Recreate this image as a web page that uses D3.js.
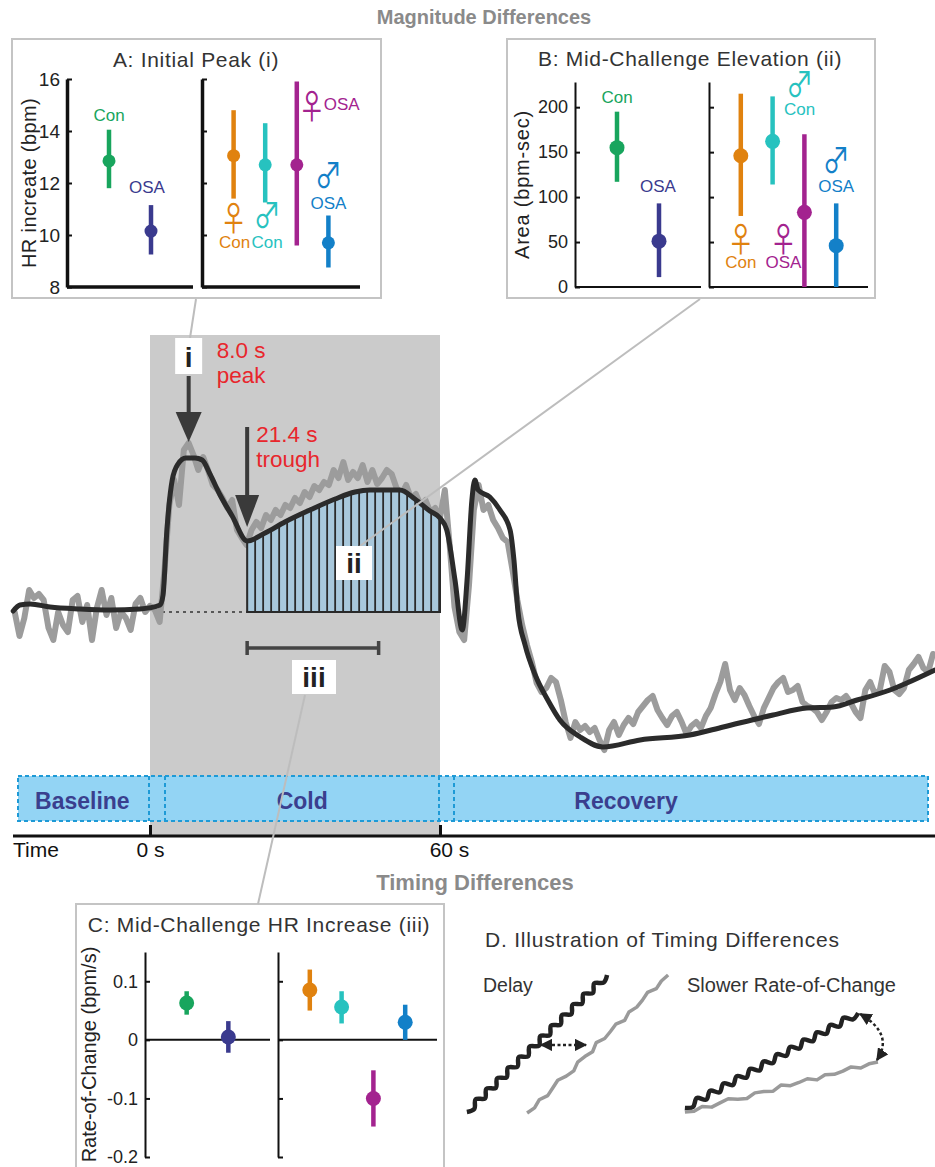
<!DOCTYPE html>
<html lang="en">
<head>
<meta charset="UTF-8">
<title>HR response to cold challenge</title>
<script src="https://cdn.jsdelivr.net/npm/d3@7"></script>
<style>
  body { margin: 0; background: #fff; }
  svg { display: block; font-family: "Liberation Sans", Arial, sans-serif; }
</style>
</head>
<body>
<svg id="fig" width="935" height="1167"></svg>
<script>
// ---------------- data ----------------
const groups2 = ["Con", "OSA"];
const groups4 = ["fCon", "mCon", "fOSA", "mOSA"];
const colors2 = ["#18a55d", "#3a3a8e"];
const colors4 = ["#e0820f", "#27c2bf", "#a3238f", "#1380c8"];

// A: initial peak (bpm)
const peakMean2 = [12.85, 10.15], peakLo2 = [11.8, 9.25], peakHi2 = [14.05, 11.15];
const peakMean4 = [13.05, 12.7, 12.7, 9.7], peakLo4 = [11.4, 11.25, 9.6, 8.75], peakHi4 = [14.8, 14.3, 15.9, 10.75];
const peakTicks = [8, 10, 12, 14, 16];

// B: mid-challenge area (bpm-sec)
const areaMean2 = [155, 51], areaLo2 = [117, 11], areaHi2 = [195, 93];
const areaMean4 = [146, 162, 83, 46], areaLo4 = [79, 114, 0, 0], areaHi4 = [215, 212, 170, 93];
const areaTicks = [0, 50, 100, 150, 200];

// C: rate of change (bpm/s)
const rateMean2 = [0.063, 0.005], rateLo2 = [0.043, -0.022], rateHi2 = [0.083, 0.032];
const rateMean4 = [0.085, 0.056, -0.1, 0.03], rateLo4 = [0.05, 0.028, -0.148, 0.0], rateHi4 = [0.12, 0.083, -0.052, 0.06];
const rateTicks = [-0.2, -0.1, 0, 0.1];

// main trace: smoothed HR change (s, bpm)
const smoothT = [-28.3, -26.9, -24.8, -20.7, -14.5, -8.3, -2.1, 2.1, 2.7, 3.5, 4.6, 5.8, 7.4, 9.3, 10.8, 12.4, 14.5, 17.0,
  20.1, 23.8, 27.9, 33.1, 38.3, 42.4, 45.5, 51.7, 54.8, 57.9, 60.0, 61.4, 63.1, 64.6, 65.6, 66.6, 67.2, 67.9, 70.3, 72.4,
  74.5, 75.3, 76.1, 77.6, 79.7, 82.3, 84.8, 89.0, 93.7, 101.4, 111.7, 118.6, 128.9, 135.9, 141.3, 146.3, 153.1, 156.6, 162.4];
const smoothHR = [-0.4, 0.2, 0.3, 0, -0.2, -0.3, -0.2, 0.2, 1.2, 7.7, 12.7, 14.3, 14.9, 14.9, 14.7, 13.3, 11.2, 9.1,
  6.6, 7.4, 8.5, 9.7, 10.8, 11.5, 11.7, 11.7, 10.8, 9.6, 8.9, 7.7, 2.7, -2.3, 2.7, 10.7, 12.7, 11.7, 11.0, 9.7,
  7.7, 4.7, -0.3, -3.8, -6.8, -9.3, -11.3, -13.0, -14.0, -13.3, -12.8, -12.0, -10.8, -10.1, -10.0, -9.3, -8.3, -7.6, -6.3];

// raw beat-by-beat HR change, 1 s samples starting at -28 s
const rawT0 = -28;
const rawBaseline = [-0.5, -2.9, -1.1, 1.7, 0.9, 1.3, 0.7, -2.1, -3.3, -0.5, -1.8, -2.5, 0.7, 1.1, -1.5, 0.2, -3.3, -0.1,
  1.7, -0.8, 0.9, -2.1, -0.5, -1.1, -2.3, 0.3, 0.9, -0.5, 0.1];
const rawCold = [-0.3, -1.5, 3.7, 10.2, 12.7, 10.2, 15.7, 16.4, 15.2, 13.7, 15.0, 13.7, 12.2, 11.7, 10.9, 9.9, 10.7, 7.7,
  6.9, 6.2, 7.7, 8.5, 7.9, 9.2, 8.7, 9.7, 9.2, 10.2, 9.9, 10.9, 10.4, 11.5, 11.0, 12.1, 11.7, 12.5, 12.2, 13.7, 12.9, 14.5,
  12.7, 13.5, 12.9, 14.2, 12.5, 13.7, 12.3, 12.9, 13.7, 13.3, 11.9, 11.2, 12.2, 10.9, 11.3, 10.2, 10.7, 9.5, 9.9, 8.9];
const rawRecovery = [11.7, 6.2, 0.0, -2.5, -3.3, 2.2, 9.7, 12.2, 9.7, 10.2,
  8.7, 7.9, 6.9, 6.5, 3.7, 0.7, -1.8, -3.8, -5.5, -7.6,
  -8.5, -8.1, -7.1, -7.5, -9.3, -11.5, -13.1, -11.5, -12.3, -11.9,
  -12.5, -12.1, -13.3, -14.3, -12.3, -11.5, -12.8, -11.8, -11.1, -11.7,
  -10.5, -9.9, -9.3, -8.9, -10.3, -11.1, -11.8, -10.9, -10.5, -11.5,
  -12.7, -11.9, -11.5, -12.1, -10.9, -10.1, -8.7, -7.5, -5.7, -8.3,
  -9.3, -8.1, -8.8, -9.9, -10.9, -11.7, -10.1, -9.1, -8.1, -7.5,
  -7.1, -8.5, -8.3, -7.9, -9.5, -9.9, -10.1, -10.5, -11.3, -10.5,
  -9.5, -9.1, -9.3, -8.9, -9.6, -10.5, -11.1, -8.3, -7.5, -8.7,
  -8.3, -5.9, -6.5, -8.3, -8.7, -8.1, -6.3, -5.7, -5.0, -6.1,
  -6.5, -4.7];

const phases = ["Baseline", "Cold", "Recovery"];
const phaseLabelT = [-14, 31.5, 98.5];
const timeTicks = [0, 60];
const baselineHR = -0.5;
const peakT = 8.0, troughMarkT = 20.1, rampEndT = 47.3;

// D: illustration wiggles (perpendicular offsets, px)
const waveBlack = [0, 3, -3, 3, -3, 3, -3, 3, -3, 3, -3, 3, -3, 3, -3, 3, -3, 3, -3, 3, -3, 3, -3, 3, -3, 3, 0];
const jagGray = [0, 1.5, -1, 2, 0, -2, 1, 2.5, -1, 0, 2, -2, 1, 0, -1.5, 2, -1, 1, 0, -2, 1.5, -0.5, 0];

// ---------------- drawing ----------------
const svg = d3.select("#fig");
const defs = svg.append("defs");
const txt = "#333";
const symFont = { family: "Noto Sans CJK JP", size: 34, sx: 0.8 };

function frame(x, y, w, h) {
  svg.append("rect").attr("x", x).attr("y", y).attr("width", w).attr("height", h)
    .attr("fill", "none").attr("stroke", "#c4c4c4").attr("stroke-width", 2);
}

function dotPanel(o) {
  const g = svg.append("g");
  const y = d3.scaleLinear().domain(o.domain).range([o.yBottom, o.yTop]);
  const xL = d3.scalePoint().domain(groups2).range(o.leftRange).padding(1);
  const xR = d3.scalePoint().domain(groups4).range(o.rightRange).padding(1);

  const axL = g.append("g").attr("transform", `translate(${o.leftRange[0]},0)`)
    .call(d3.axisLeft(y).tickValues(o.ticks).tickSizeInner(-5).tickSizeOuter(0).tickPadding(7).tickFormat(o.fmt));
  const axR = g.append("g").attr("transform", `translate(${o.rightRange[0]},0)`)
    .call(d3.axisLeft(y).tickValues(o.ticks).tickSizeInner(-5).tickSizeOuter(0).tickFormat(""));
  [axL, axR].forEach(a => {
    a.select(".domain").attr("stroke", "#111").attr("stroke-width", o.axisW);
    a.selectAll(".tick line").attr("stroke", "#111").attr("stroke-width", 2);
    a.selectAll("text").attr("font-size", o.tickSize).attr("fill", "#222").attr("font-family", "Liberation Sans, Arial");
  });
  [o.leftRange, o.rightRange].forEach(r => {
    g.append("line").attr("x1", r[0]).attr("x2", r[1]).attr("y1", y(o.baseVal)).attr("y2", y(o.baseVal))
      .attr("stroke", "#111").attr("stroke-width", o.baseW);
  });

  function marks(xs, names, mean, lo, hi, cols) {
    names.forEach((n, i) => {
      g.append("line").attr("x1", xs(n)).attr("x2", xs(n)).attr("y1", y(lo[i])).attr("y2", y(hi[i]))
        .attr("stroke", cols[i]).attr("stroke-width", 4.5);
      g.append("circle").attr("cx", xs(n)).attr("cy", y(mean[i])).attr("r", o.r).attr("fill", cols[i]);
    });
  }
  marks(xL, groups2, o.mean2, o.lo2, o.hi2, colors2);
  marks(xR, groups4, o.mean4, o.lo4, o.hi4, colors4);

  g.append("text").attr("x", o.title[1]).attr("y", o.title[2]).attr("text-anchor", "middle")
    .attr("font-size", 21).attr("letter-spacing", 0.7).attr("fill", txt).text(o.title[0]);
  g.append("text").attr("transform", `translate(${o.ylab[1]},${(o.yTop + o.yBottom) / 2 + o.ylab[2]}) rotate(-90)`)
    .attr("text-anchor", "middle").attr("font-size", 20).attr("letter-spacing", o.ylab[3])
    .attr("fill", "#222").text(o.ylab[0]);
  return { g, y, xL, xR };
}

function groupLabels(p, items) {
  items.forEach(it => {
    const xs = it.side === 2 ? p.xL : p.xR;
    const col = it.side === 2 ? colors2[groups2.indexOf(it.grp)] : colors4[groups4.indexOf(it.grp)];
    const t = p.g.append("text").attr("fill", col).attr("text-anchor", it.anchor || "middle");
    if (it.sym) {
      t.attr("transform", `translate(${xs(it.grp) + it.dx},${p.y(it.v)}) scale(${symFont.sx},1)`)
        .attr("font-family", symFont.family).attr("font-size", symFont.size).text(it.sym);
    } else {
      t.attr("x", xs(it.grp) + it.dx).attr("y", p.y(it.v)).attr("font-size", 17).text(it.text);
    }
  });
}

// --- Panel A
frame(12, 39, 369, 259);
const pA = dotPanel({
  domain: [8, 16], yBottom: 287, yTop: 79, leftRange: [67, 193], rightRange: [202, 360], ticks: peakTicks,
  fmt: d3.format("d"), baseVal: 8, axisW: 3.5, baseW: 3.5, r: 6.5, tickSize: 19,
  mean2: peakMean2, lo2: peakLo2, hi2: peakHi2, mean4: peakMean4, lo4: peakLo4, hi4: peakHi4,
  title: ["A: Initial Peak (i)", 196, 67], ylab: ["HR increate (bpm)", 36, 0, 0.4]
});
groupLabels(pA, [
  { side: 2, grp: "Con", dx: 0, v: 14.38, text: "Con" },
  { side: 2, grp: "OSA", dx: -4, v: 11.6, text: "OSA" },
  { side: 4, grp: "fCon", dx: 0, v: 10.14, sym: "♀" },
  { side: 4, grp: "fCon", dx: 1, v: 9.5, text: "Con" },
  { side: 4, grp: "mCon", dx: 2, v: 10.27, sym: "♂" },
  { side: 4, grp: "mCon", dx: 2, v: 9.5, text: "Con" },
  { side: 4, grp: "fOSA", dx: 15, v: 14.46, sym: "♀" },
  { side: 4, grp: "fOSA", dx: 27, v: 14.8, text: "OSA", anchor: "start" },
  { side: 4, grp: "mOSA", dx: 0, v: 11.8, sym: "♂" },
  { side: 4, grp: "mOSA", dx: 0, v: 11.0, text: "OSA" }
]);

// --- Panel B
frame(507, 39, 368, 259);
const pB = dotPanel({
  domain: [0, 228], yBottom: 287, yTop: 82, leftRange: [575, 701], rightRange: [709, 868], ticks: areaTicks,
  fmt: d3.format("d"), baseVal: 0, axisW: 2, baseW: 2, r: 7.5, tickSize: 18,
  mean2: areaMean2, lo2: areaLo2, hi2: areaHi2, mean4: areaMean4, lo4: areaLo4, hi4: areaHi4,
  title: ["B: Mid-Challenge Elevation (ii)", 690, 66], ylab: ["Area (bpm-sec)", 529, 0, 0.8]
});
groupLabels(pB, [
  { side: 2, grp: "Con", dx: 0, v: 204.6, text: "Con" },
  { side: 2, grp: "OSA", dx: -1, v: 105.6, text: "OSA" },
  { side: 4, grp: "mCon", dx: 27, v: 211, sym: "♂" },
  { side: 4, grp: "mCon", dx: 27, v: 191.3, text: "Con" },
  { side: 4, grp: "fCon", dx: 0, v: 39, sym: "♀" },
  { side: 4, grp: "fCon", dx: 0, v: 21.1, text: "Con" },
  { side: 4, grp: "fOSA", dx: -21, v: 39, sym: "♀" },
  { side: 4, grp: "fOSA", dx: -21, v: 21.1, text: "OSA" },
  { side: 4, grp: "mOSA", dx: 0, v: 127, sym: "♂" },
  { side: 4, grp: "mOSA", dx: 0, v: 105.6, text: "OSA" }
]);

// --- Panel C
frame(76, 904, 368, 280);
dotPanel({
  domain: [-0.2, 0.15], yBottom: 1157, yTop: 952, leftRange: [145, 270], rightRange: [278, 437], ticks: rateTicks,
  fmt: d => String(d), baseVal: 0, axisW: 2, baseW: 2, r: 7.5, tickSize: 18,
  mean2: rateMean2, lo2: rateLo2, hi2: rateHi2, mean4: rateMean4, lo4: rateLo4, hi4: rateHi4,
  title: ["C: Mid-Challenge HR Increase (iii)", 259, 932], ylab: ["Rate-of-Change (bpm/s)", 96, 0, 0]
});

// ---------------- main trace ----------------
const x = d3.scaleLinear().domain([0, 60]).range([150, 440]);
const y = d3.scaleLinear().domain([0, 10]).range([607, 507]);
const axisY = 836;

svg.append("rect").attr("x", x(0)).attr("y", 335).attr("width", x(60) - x(0)).attr("height", axisY - 335)
  .attr("fill", "#cbcbcb");

svg.append("line").attr("x1", x(0) + 5).attr("x2", x(troughMarkT)).attr("y1", y(baselineHR)).attr("y2", y(baselineHR))
  .attr("stroke", "#333").attr("stroke-width", 1.6).attr("stroke-dasharray", "3,4");

const raw = rawBaseline.concat(rawCold, rawRecovery);
const rawPts = raw.map((v, i) => [rawT0 + i, v]);
svg.append("path").datum(rawPts)
  .attr("d", d3.line().x(d => x(d[0])).y(d => y(d[1])))
  .attr("fill", "none").attr("stroke", "#9c9c9c").attr("stroke-width", 6)
  .attr("stroke-linejoin", "round").attr("stroke-linecap", "round");

const smoothPts = smoothT.map((t, i) => [t, smoothHR[i]]);
const areaPts = smoothPts.filter(d => d[0] >= troughMarkT && d[0] <= 60);
const areaGen = d3.area().x(d => x(d[0])).y0(y(baselineHR)).y1(d => y(d[1])).curve(d3.curveMonotoneX);
defs.append("clipPath").attr("id", "hatchClip").append("path").attr("d", areaGen(areaPts));
svg.append("path").attr("d", areaGen(areaPts)).attr("fill", "#a8c8dc");
const hatch = svg.append("g").attr("clip-path", "url(#hatchClip)");
d3.range(x(troughMarkT), x(60) + 0.5, 8).forEach(px => {
  hatch.append("line").attr("x1", px).attr("x2", px).attr("y1", y(baselineHR)).attr("y2", 420)
    .attr("stroke", "#2a2a2a").attr("stroke-width", 1.8);
});
svg.append("path")
  .attr("d", `M${x(troughMarkT)},${y(smoothHR[smoothT.indexOf(troughMarkT)])}V${y(baselineHR)}H${x(60)}V${y(8.9)}`)
  .attr("fill", "none").attr("stroke", "#2a2a2a").attr("stroke-width", 2);

svg.append("path").datum(smoothPts)
  .attr("d", d3.line().x(d => x(d[0])).y(d => y(d[1])).curve(d3.curveMonotoneX))
  .attr("fill", "none").attr("stroke", "#2b2b2b").attr("stroke-width", 5)
  .attr("stroke-linejoin", "round").attr("stroke-linecap", "round");

// arrows
function downArrow(cx, y0, tip, headLen, half) {
  svg.append("line").attr("x1", cx).attr("x2", cx).attr("y1", y0).attr("y2", tip - headLen + 2)
    .attr("stroke", "#3a3a3a").attr("stroke-width", 4);
  svg.append("path").attr("d", `M${cx - half},${tip - headLen}L${cx + half},${tip - headLen}L${cx},${tip}Z`)
    .attr("fill", "#3a3a3a");
}
downArrow(x(peakT), 376, 442, 30, 13);
downArrow(x(troughMarkT), 427, 527, 32, 12);

const red = "#e8262c";
[["8.0 s", 358], ["peak", 383]].forEach(d => svg.append("text").attr("x", x(peakT) + 28).attr("y", d[1])
  .attr("font-size", 22.5).attr("fill", red).text(d[0]));
[["21.4 s", 442], ["trough", 467]].forEach(d => svg.append("text").attr("x", x(troughMarkT) + 9).attr("y", d[1])
  .attr("font-size", 22.5).attr("fill", red).text(d[0]));

// range bar iii
const barY = 648;
svg.append("path")
  .attr("d", `M${x(troughMarkT)},${barY - 7}V${barY + 7}M${x(troughMarkT)},${barY}H${x(rampEndT)}M${x(rampEndT)},${barY - 7}V${barY + 7}`)
  .attr("fill", "none").attr("stroke", "#444").attr("stroke-width", 3.5);

// phase strip
const strip = svg.append("g");
strip.append("rect").attr("x", 18).attr("y", 776).attr("width", 910).attr("height", 45)
  .attr("fill", "#93d4f4").attr("stroke", "#1e9ad6").attr("stroke-width", 2).attr("stroke-dasharray", "4,3");
[x(0) - 1, x(0) + 15, x(60) - 1, x(60) + 14].forEach(px => {
  strip.append("line").attr("x1", px).attr("x2", px).attr("y1", 776).attr("y2", 821)
    .attr("stroke", "#1e9ad6").attr("stroke-width", 2).attr("stroke-dasharray", "4,3");
});
phases.forEach((p, i) => {
  strip.append("text").attr("x", x(phaseLabelT[i])).attr("y", 809).attr("text-anchor", "middle")
    .attr("font-size", 23).attr("font-weight", "bold").attr("fill", "#3a3f8e").text(p);
});

// time axis
svg.append("line").attr("x1", 13).attr("x2", 935).attr("y1", axisY).attr("y2", axisY)
  .attr("stroke", "#111").attr("stroke-width", 3);
const tAx = svg.append("g").attr("transform", `translate(0,${axisY})`)
  .call(d3.axisBottom(x).tickValues(timeTicks).tickSizeInner(-11).tickSizeOuter(0).tickPadding(6).tickFormat(d => d + " s"));
tAx.select(".domain").remove();
tAx.selectAll(".tick line").attr("stroke", "#111").attr("stroke-width", 3);
tAx.selectAll("text").attr("font-size", 21).attr("fill", "#111").attr("font-family", "Liberation Sans, Arial")
  .attr("dx", d => d === 60 ? 9 : 0);
svg.append("text").attr("x", 13).attr("y", 857).attr("font-size", 21).attr("fill", "#111").text("Time");

// section headings
svg.append("text").attr("x", 484).attr("y", 24).attr("text-anchor", "middle").attr("font-size", 20)
  .attr("font-weight", "bold").attr("fill", "#8a8a8a").text("Magnitude Differences");
svg.append("text").attr("x", 475).attr("y", 890).attr("text-anchor", "middle").attr("font-size", 22)
  .attr("font-weight", "bold").attr("fill", "#8a8a8a").text("Timing Differences");

// connectors
const conn = [[196, 299, 190, 338], [700, 299, 360, 546], [305, 695, 258, 904]];
conn.forEach(c => svg.append("line").attr("x1", c[0]).attr("y1", c[1]).attr("x2", c[2]).attr("y2", c[3])
  .attr("stroke", "#bdbdbd").attr("stroke-width", 2));

// roman labels
function tag(label, cx, top, w, h) {
  svg.append("rect").attr("x", cx - w / 2).attr("y", top).attr("width", w).attr("height", h).attr("fill", "#fff");
  svg.append("text").attr("x", cx).attr("y", top + h - 7).attr("text-anchor", "middle")
    .attr("font-size", 28).attr("font-weight", "bold").attr("fill", "#222").text(label);
}
tag("i", x(peakT), 338, 27, 36);
tag("ii", 354, 546, 36, 34);
tag("iii", 314, 660, 44, 34);

// ---------------- Panel D ----------------
const dx = d3.scaleLinear().domain([0, 100]).range([460, 890]);
const dy = d3.scaleLinear().domain([0, 100]).range([1115, 965]);
svg.append("text").attr("x", 485).attr("y", 947).attr("font-size", 21).attr("letter-spacing", 0.8).attr("fill", txt)
  .text("D. Illustration of Timing Differences");
svg.append("text").attr("x", 483).attr("y", 992).attr("font-size", 19.5).attr("fill", txt).text("Delay");
svg.append("text").attr("x", 687).attr("y", 992).attr("font-size", 20).attr("fill", txt).text("Slower Rate-of-Change");

function wavy(a, b, offs) {
  const x0 = dx(a[0]), y0 = dy(a[1]), x1 = dx(b[0]), y1 = dy(b[1]);
  const len = Math.hypot(x1 - x0, y1 - y0), nx = -(y1 - y0) / len, ny = (x1 - x0) / len;
  return offs.map((o, i) => {
    const f = i / (offs.length - 1);
    return [x0 + (x1 - x0) * f + nx * o, y0 + (y1 - y0) * f + ny * o];
  });
}
const smoothLine = d3.line().curve(d3.curveCatmullRom);
const jagLine = d3.line();
function drawTrace(pts, gen, col, w) {
  svg.append("path").attr("d", gen(pts)).attr("fill", "none").attr("stroke", col).attr("stroke-width", w)
    .attr("stroke-linecap", "butt").attr("stroke-linejoin", "round");
}
drawTrace(wavy([1.6, 2], [34.2, 93.3], waveBlack), smoothLine, "#222", 4.5);
drawTrace(wavy([15.6, 1.3], [48.4, 93.3], jagGray), jagLine, "#9a9a9a", 3.5);
drawTrace(wavy([52.3, 4.7], [92.6, 68], waveBlack), smoothLine, "#222", 4.5);
drawTrace(wavy([52.3, 2], [97.2, 35.3], jagGray), jagLine, "#9a9a9a", 3.5);

defs.append("marker").attr("id", "head").attr("viewBox", "0 0 10 10").attr("refX", 9).attr("refY", 5)
  .attr("markerWidth", 5).attr("markerHeight", 5).attr("orient", "auto-start-reverse")
  .append("path").attr("d", "M0,0L10,5L0,10Z").attr("fill", "#222");
svg.append("line").attr("x1", 541).attr("x2", 586).attr("y1", dy(46.7)).attr("y2", dy(46.7))
  .attr("stroke", "#222").attr("stroke-width", 2.5).attr("stroke-dasharray", "3,2.5")
  .attr("marker-start", "url(#head)").attr("marker-end", "url(#head)");
const arc = d3.path();
arc.moveTo(dx(92.6) + 2, dy(68) + 1);
arc.quadraticCurveTo(dx(101), dy(54), dx(97.2) - 1, dy(35.3) - 2);
svg.append("path").attr("d", arc.toString()).attr("fill", "none").attr("stroke", "#222").attr("stroke-width", 2.5)
  .attr("stroke-dasharray", "3,2.5").attr("marker-start", "url(#head)").attr("marker-end", "url(#head)");
</script>
</body>
</html>
